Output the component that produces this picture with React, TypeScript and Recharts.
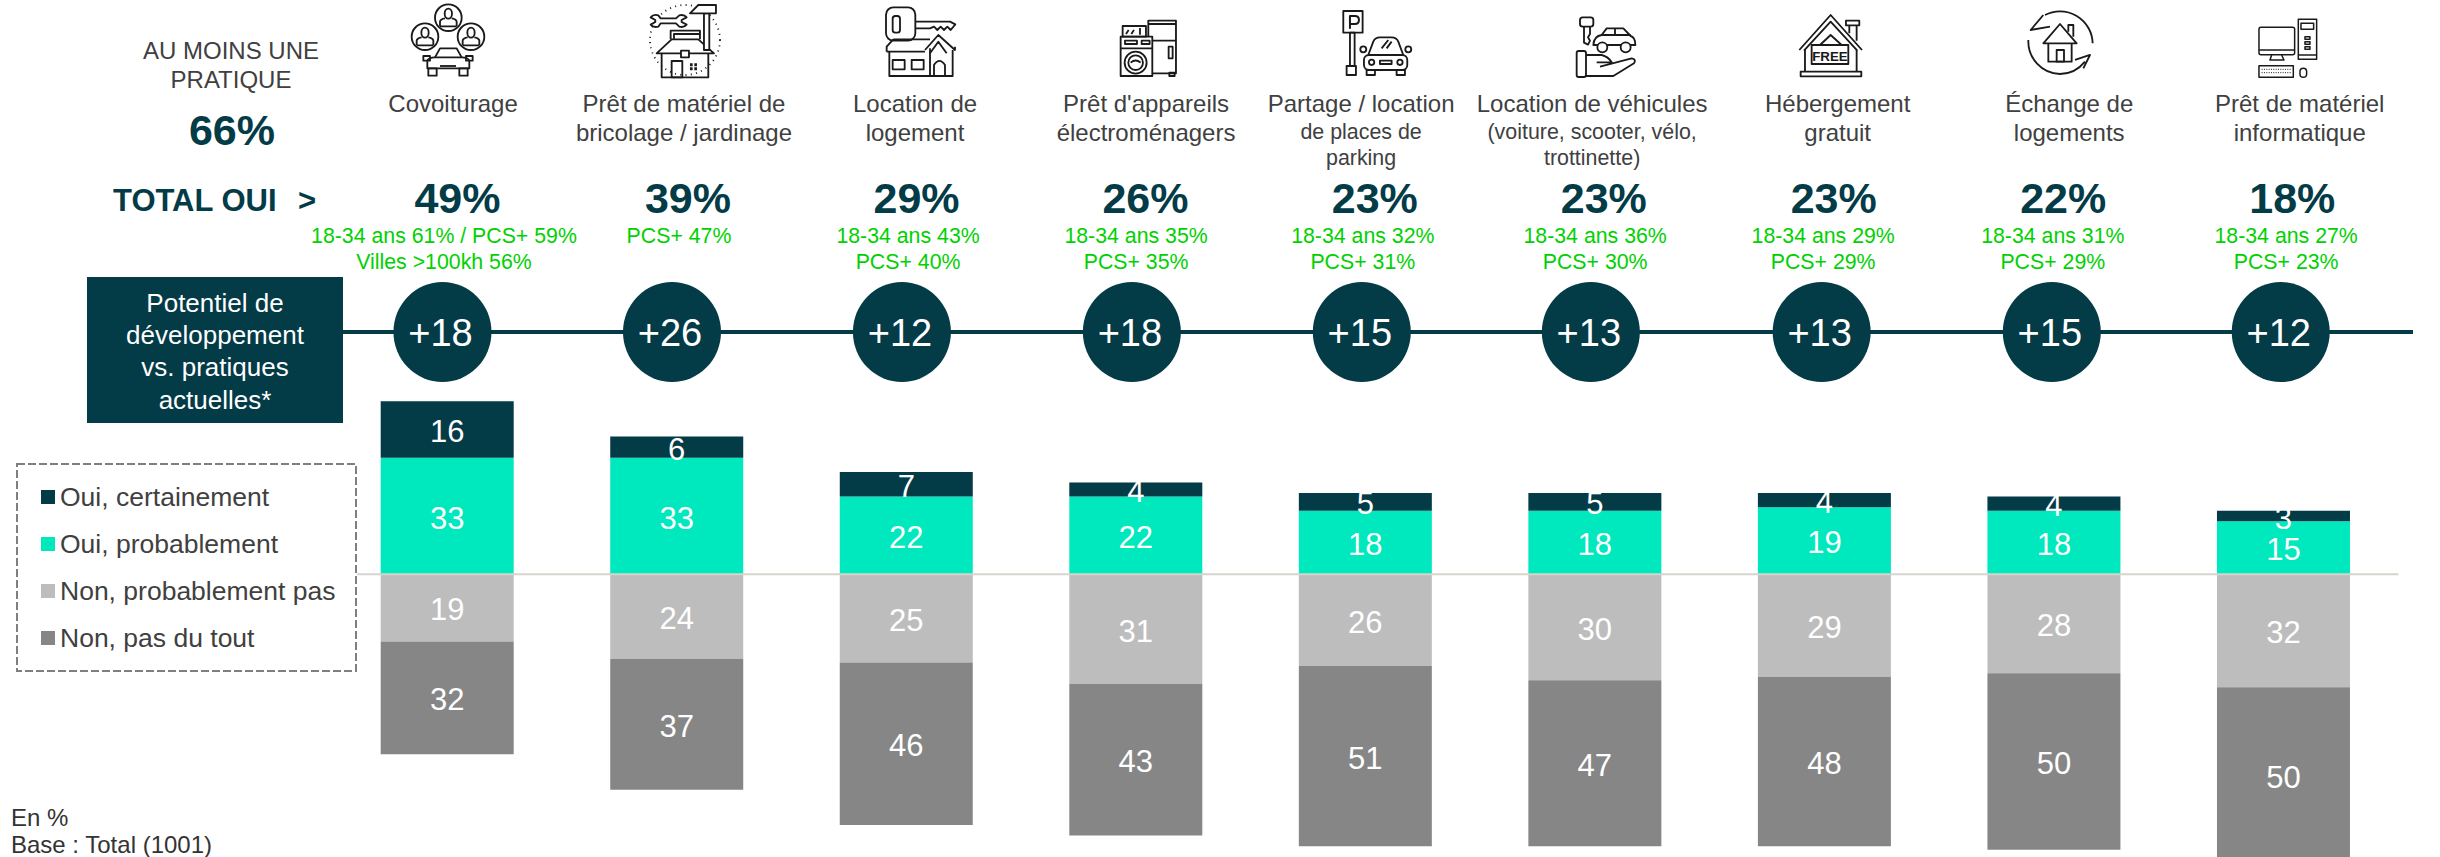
import React from "react";
import { BarChart, Bar, XAxis, YAxis, Legend, LabelList, ReferenceLine } from "recharts";

const categories = [
  "Covoiturage",
  "Prêt de matériel",
  "Location logement",
  "Appareils",
  "Parking",
  "Véhicules",
  "Hébergement",
  "Échange",
  "Informatique",
];

const certainement = [16, 6, 7, 4, 5, 5, 4, 4, 3];
const probablement = [33, 33, 22, 22, 18, 18, 19, 18, 15];
const probablementPas = [19, 24, 25, 31, 26, 30, 29, 28, 32];
const pasDuTout = [32, 37, 46, 43, 51, 47, 48, 50, 50];

const titleLines = [
  ["Covoiturage"],
  ["Prêt de matériel de", "bricolage / jardinage"],
  ["Location de", "logement"],
  ["Prêt d'appareils", "électroménagers"],
  ["Partage / location"],
  ["Location de véhicules"],
  ["Hébergement", "gratuit"],
  ["Échange de", "logements"],
  ["Prêt de matériel", "informatique"],
];
const titleSubLines = [[], [], [], [], ["de places de", "parking"], ["(voiture, scooter, vélo,", "trottinette)"], [], [], []];
const totalOui = ["49%", "39%", "29%", "26%", "23%", "23%", "23%", "22%", "18%"];
const highlights = [
  ["18-34 ans 61% / PCS+ 59%", "Villes >100kh 56%"],
  ["PCS+ 47%"],
  ["18-34 ans 43%", "PCS+ 40%"],
  ["18-34 ans 35%", "PCS+ 35%"],
  ["18-34 ans 32%", "PCS+ 31%"],
  ["18-34 ans 36%", "PCS+ 30%"],
  ["18-34 ans 29%", "PCS+ 29%"],
  ["18-34 ans 31%", "PCS+ 29%"],
  ["18-34 ans 27%", "PCS+ 23%"],
];
const potentiel = ["+18", "+26", "+12", "+18", "+15", "+13", "+13", "+15", "+12"];

// hand placed in the original slide, so each column drifts a bit from its bar
const titleShift = [5.6, 7, 8.5, 10, -4.5, -3, 13, 15, 16];
const totalShift = [10, 11, 10, 9.4, 9.2, 8.7, 9, 9, 8.6];
const greenShift = [-3.5, 2, 1.5, 0, -2.8, 0, -1.5, -1.4, 2.4];
const circleShift = [-5, -5, -4.6, -4.2, -3.8, -4.3, -3, -2.4, -3];

const DARK = "#033b47";
const TEAL = "#00e8bd";
const LIGHT_GREY = "#bdbdbd";
const GREY = "#868686";
const TEXT = "#404040";
const GREEN = "#00d100";

const legendOrder = ["Oui, certainement", "Oui, probablement", "Non, probablement pas", "Non, pas du tout"];

const chartData = categories.map((name, i) => ({
  name,
  certainement: certainement[i],
  probablement: probablement[i],
  probablementPas: -probablementPas[i],
  pasDuTout: -pasDuTout[i],
}));

function ColumnHeader({ x, payload }: any) {
  const i = payload.index;
  return (
    <g>
      {titleLines[i].map((line, n) => (
        <text key={n} x={x + titleShift[i]} y={112 + n * 29} textAnchor="middle" fontSize={24} fill={TEXT}>
          {line}
        </text>
      ))}
      {titleSubLines[i].map((line, n) => (
        <text key={n} x={x + titleShift[i]} y={139 + n * 26} textAnchor="middle" fontSize={21.4} fill={TEXT}>
          {line}
        </text>
      ))}
      <text x={x + totalShift[i]} y={213} textAnchor="middle" fontSize={43} fontWeight="bold" fill={DARK}>
        {totalOui[i]}
      </text>
      {highlights[i].map((line, n) => (
        <text key={n} x={x + greenShift[i]} y={243 + n * 26} textAnchor="middle" fontSize={21.3} fill={GREEN}>
          {line}
        </text>
      ))}
      <ellipse cx={x + circleShift[i]} cy={332} rx={49} ry={50} fill={DARK} />
      <text x={x + circleShift[i] - 2} y={346} textAnchor="middle" fontSize={38} fill="#fff">
        {potentiel[i]}
      </text>
    </g>
  );
}

function LegendBox({ payload }: any) {
  const items = legendOrder.map((name) => (payload || []).find((p: any) => p.value === name)).filter(Boolean);
  return (
    <div style={{ position: "relative", width: 341, height: 209, background: "#fff" }}>
      <svg width={341} height={209} style={{ position: "absolute", left: 0, top: 0 }}>
        <rect x={1} y={1} width={339} height={207} fill="none" stroke="#7f7f7f" strokeWidth={2} strokeDasharray="8 3" />
      </svg>
      {items.map((item: any, i: number) => (
        <div key={item.value} style={{ position: "absolute", left: 25, top: 14 + i * 47, height: 40, display: "flex", alignItems: "center" }}>
          <span style={{ width: 14, height: 14, background: item.color, marginRight: 5 }} />
          <span style={{ fontSize: 26.5, color: TEXT, whiteSpace: "nowrap" }}>{item.value}</span>
        </div>
      ))}
    </div>
  );
}

// icons are traced in crop coordinates, 3 units to the pixel
function Icons() {
  const person = (cx: number, cy: number) => (
    <g>
      <circle cx={cx} cy={cy} r={40} />
      <ellipse cx={cx} cy={cy - 12} rx={11} ry={15} />
      <path d={`M${cx - 25},${cy + 26} V${cy + 12} Q${cx - 24},${cy + 4} ${cx - 10},${cy + 2} M${cx + 25},${cy + 26} V${cy + 12} Q${cx + 24},${cy + 4} ${cx + 10},${cy + 2} M${cx - 25},${cy + 26} H${cx + 25}`} />
    </g>
  );
  return (
    <svg width={2440} height={90} style={{ position: "absolute", left: 0, top: 0 }}>
      <g fill="none" stroke="#1a1a1a" strokeWidth={5.5} strokeLinejoin="round">
        <g transform="translate(400,0) scale(0.3333)">
          {person(145, 53)}
          {person(75, 110)}
          {person(213, 110)}
          <path d="M105,172 L120,145 H170 L185,172" />
          <path d="M82,205 V182 Q86,172 105,172 H185 Q204,172 208,182 V205 Z" />
          <rect x={70} y={168} width={20} height={14} />
          <rect x={198} y={168} width={20} height={14} />
          <rect x={85} y={205} width={25} height={22} />
          <rect x={178} y={205} width={25} height={22} />
          <path d="M120,198 H168" />
        </g>
        <g transform="translate(400,0) scale(0.3333)">
          <circle cx={855} cy={120} r={105} strokeDasharray="3 13" />
          <path d="M770,160 L815,118 H895 L942,160 Z" fill="#fff" />
          <path d="M785,160 V232 H925 V160" />
          <rect x={815} y={183} width={32} height={49} />
          <path d="M870,194 H892 M870,206 H892" strokeWidth={9} strokeDasharray="8 5" />
          <path d="M812,118 V92 H900 V118 M822,118 V102 H900" />
          <rect x={912} y={40} width={16} height={110} fill="#fff" />
          <path d="M870,40 L895,15 H948 V40 Z" fill="#fff" />
          <rect x={843} y={152} width={24} height={20} fill="#fff" />
          <path d="M752,52 Q760,42 775,46 L782,55 H828 L838,46 Q852,42 860,52 L845,60 V66 L860,74 Q852,84 838,80 L828,70 H782 L775,80 Q760,84 752,74 L766,66 V60 Z" fill="#fff" />
        </g>
        <g transform="translate(880,0) scale(0.3333)">
          <rect x={18} y={22} width={88} height={100} rx={22} />
          <rect x={38} y={48} width={22} height={50} rx={8} />
          <path d="M108,65 H210 L226,73 L212,90 L202,80 L192,90 L182,80 L172,90 L162,80 L150,85 H108" />
          <path d="M40,118 H150 M20,155 V140 L40,118 M20,155 H135 M135,150 L175,105 L225,150 V140 M150,160 L175,125 L200,160" />
          <path d="M28,155 V228 H218 V150 M150,145 V228" />
          <rect x={38} y={180} width={36} height={28} />
          <rect x={95} y={180} width={36} height={28} />
          <path d="M162,228 V195 Q178,170 195,195 V228" />
        </g>
        <g transform="translate(880,0) scale(0.3333)">
          <rect x={805} y={62} width={83} height={158} />
          <path d="M805,72 H888 M817,122 H888" />
          <rect x={866} y={140} width={12} height={35} />
          <rect x={868} y={218} width={16} height={10} />
          <rect x={722} y={110} width={95} height={118} fill="#fff" />
          <path d="M722,145 H817" />
          <circle cx={767} cy={188} r={33} />
          <circle cx={767} cy={188} r={22} />
          <path d="M752,188 Q767,175 782,188" />
          <rect x={735} y={122} width={36} height={10} />
          <rect x={785} y={122} width={24} height={10} />
          <rect x={728} y={78} width={70} height={32} />
          <path d="M738,102 L746,90 M754,102 L762,90 M780,84 V104" />
        </g>
        <g transform="translate(880,0) scale(0.3333)">
          <rect x={1390} y={33} width={58} height={65} />
          <path d="M1410,86 V48 H1425 Q1437,48 1437,60 Q1437,72 1425,72 H1410" strokeWidth={6} />
          <rect x={1410} y={98} width={14} height={100} />
          <rect x={1400} y={198} width={28} height={27} />
          <path d="M1465,165 L1480,125 Q1485,112 1500,112 H1535 Q1550,112 1555,125 L1570,165" />
          <rect x={1452} y={165} width={130} height={45} rx={15} />
          <circle cx={1475} cy={187} r={8} />
          <circle cx={1560} cy={187} r={8} />
          <rect x={1500} y={182} width={35} height={10} />
          <circle cx={1450} cy={148} r={9} />
          <circle cx={1585} cy={148} r={9} />
          <rect x={1460} y={210} width={25} height={15} />
          <rect x={1550} y={210} width={25} height={15} />
          <path d="M1505,145 L1525,120 M1520,145 L1535,125" />
        </g>
        <g transform="translate(1560,0) scale(0.3333)">
          <rect x={60} y={52} width={40} height={28} rx={8} />
          <path d="M72,80 V128 L84,134 L90,122 L84,112 L90,102 V80" />
          <path d="M100,135 Q102,108 125,105 L140,85 H190 L212,108 Q226,112 226,135 Z" />
          <path d="M165,85 V108 M125,105 H212" />
          <circle cx={127} cy={142} r={15} fill="#fff" />
          <circle cx={197} cy={142} r={15} fill="#fff" />
          <rect x={50} y={153} width={28} height={78} rx={6} />
          <path d="M78,165 H125 Q145,170 155,187 H110 M120,200 L215,175 Q230,178 222,190 L160,228 H78" />
        </g>
        <g transform="translate(1560,0) scale(0.3333)">
          <path d="M718,150 L812,45 L906,150 M732,152 L812,65 L892,152" />
          <path d="M735,150 V215 M890,150 V215" />
          <rect x={722} y={215} width={182} height={14} />
          <rect x={858} y={62} width={40} height={14} />
          <path d="M868,76 V100 M890,76 V122" />
          <path d="M780,135 L812,105 L845,135" />
          <rect x={755} y={135} width={110} height={57} fill="#fff" />
          <text x={810} y={182} textAnchor="middle" fontSize={40} fontWeight="bold" fill="#1a1a1a" stroke="none">
            FREE
          </text>
        </g>
        <g transform="translate(2000,0) scale(0.3333)">
          <path d="M278,130 A98,98 0 0 0 135,45 M130,45 L92,90 L150,80" />
          <path d="M85,120 A98,98 0 0 0 180,222 Q225,222 255,185 M225,180 L270,165 L250,205" />
          <path d="M130,130 L180,72 L230,130 Z" />
          <path d="M145,130 V185 H215 V130" />
          <rect x={170} y={150} width={22} height={35} />
          <path d="M205,95 V75 H220 V110" />
        </g>
        <g transform="translate(2000,0) scale(0.3333)" strokeWidth={4.5}>
          <rect x={777} y={82} width={107} height={82} rx={6} />
          <path d="M777,150 H884 M815,165 L810,180 H852 L845,165" />
          <rect x={895} y={58} width={55} height={120} />
          <rect x={903} y={70} width={38} height={18} />
          <rect x={915} y={110} width={15} height={8} />
          <rect x={915} y={125} width={15} height={8} />
          <rect x={915} y={140} width={15} height={8} />
          <path d="M895,165 H950" />
          <rect x={777} y={197} width={103} height={35} />
          <path d="M785,208 H872 M785,218 H872" strokeDasharray="3 4" strokeWidth={3} />
          <rect x={900} y={205} width={20} height={27} rx={10} />
        </g>
      </g>
    </svg>
  );
}

const absText = (left: number, top: number, width: number, size: number, color: string, bold = false): React.CSSProperties => ({
  position: "absolute",
  left,
  top,
  width,
  textAlign: "center",
  fontSize: size,
  lineHeight: `${Math.round(size * 1.2)}px`,
  color,
  fontWeight: bold ? "bold" : "normal",
  whiteSpace: "nowrap",
});

export default function App() {
  return (
    <div style={{ position: "absolute", left: 0, top: 0, width: 2440, height: 857, overflow: "hidden", background: "#fff", fontFamily: "'Liberation Sans', Arial, sans-serif" }}>
      <div style={{ position: "absolute", left: 340, top: 330, width: 2073, height: 4, background: DARK }} />
      <div style={{ position: "absolute", left: 87, top: 277, width: 256, height: 146, background: DARK }} />
      {["Potentiel de", "développement", "vs. pratiques", "actuelles*"].map((line, i) => (
        <div key={line} style={absText(87, 288 + i * 32.2, 256, 26, "#fff")}>
          {line}
        </div>
      ))}
      <div style={absText(111, 36, 240, 24, TEXT)}>AU MOINS UNE</div>
      <div style={absText(111, 65, 240, 24, TEXT)}>PRATIQUE</div>
      <div style={absText(112, 104, 240, 43, DARK, true)}>66%</div>
      <div style={{ ...absText(113, 182, 230, 31, DARK, true), textAlign: "left" }}>TOTAL OUI</div>
      <div style={{ ...absText(298, 182, 30, 31, DARK, true), textAlign: "left" }}>{">"}</div>
      <div style={{ ...absText(11, 803, 300, 24, "#333"), textAlign: "left" }}>En %</div>
      <div style={{ ...absText(11, 832, 300, 24, "#333"), textAlign: "left", lineHeight: "25px" }}>Base : Total (1001)</div>
      <Icons />
      <div style={{ position: "absolute", left: 0, top: 0 }}>
        <BarChart
          width={2440}
          height={875}
          data={chartData}
          stackOffset="sign"
          barSize={133}
          margin={{ top: 8.4, right: 41.5, bottom: 0.6, left: 332.7 }}
        >
          <XAxis dataKey="name" orientation="top" height={1} interval={0} axisLine={false} tickLine={false} tick={(props: any) => <ColumnHeader {...props} />} />
          <YAxis hide domain={[-85, 160]} />
          <Legend
            layout="vertical"
            align="center"
            verticalAlign="middle"
            content={(props: any) => <LegendBox {...props} />}
            wrapperStyle={{ left: 16, top: 463, width: 341, height: 209, margin: 0 }}
          />
          <ReferenceLine y={0} stroke="#d6d4cc" strokeWidth={2} />
          <Bar dataKey="probablement" name="Oui, probablement" stackId="a" fill={TEAL} isAnimationActive={false}>
            <LabelList dataKey="probablement" position="center" fill="#fff" fontSize={31} dy={1.5} />
          </Bar>
          <Bar dataKey="certainement" name="Oui, certainement" stackId="a" fill={DARK} isAnimationActive={false}>
            <LabelList dataKey="certainement" position="center" fill="#fff" fontSize={31} dy={1.5} />
          </Bar>
          <Bar dataKey="probablementPas" name="Non, probablement pas" stackId="a" fill={LIGHT_GREY} isAnimationActive={false}>
            <LabelList dataKey="probablementPas" position="center" fill="#fff" fontSize={31} dy={1.5} formatter={(v: any) => Math.abs(v)} />
          </Bar>
          <Bar dataKey="pasDuTout" name="Non, pas du tout" stackId="a" fill={GREY} isAnimationActive={false}>
            <LabelList dataKey="pasDuTout" position="center" fill="#fff" fontSize={31} dy={1.5} formatter={(v: any) => Math.abs(v)} />
          </Bar>
        </BarChart>
      </div>
    </div>
  );
}
